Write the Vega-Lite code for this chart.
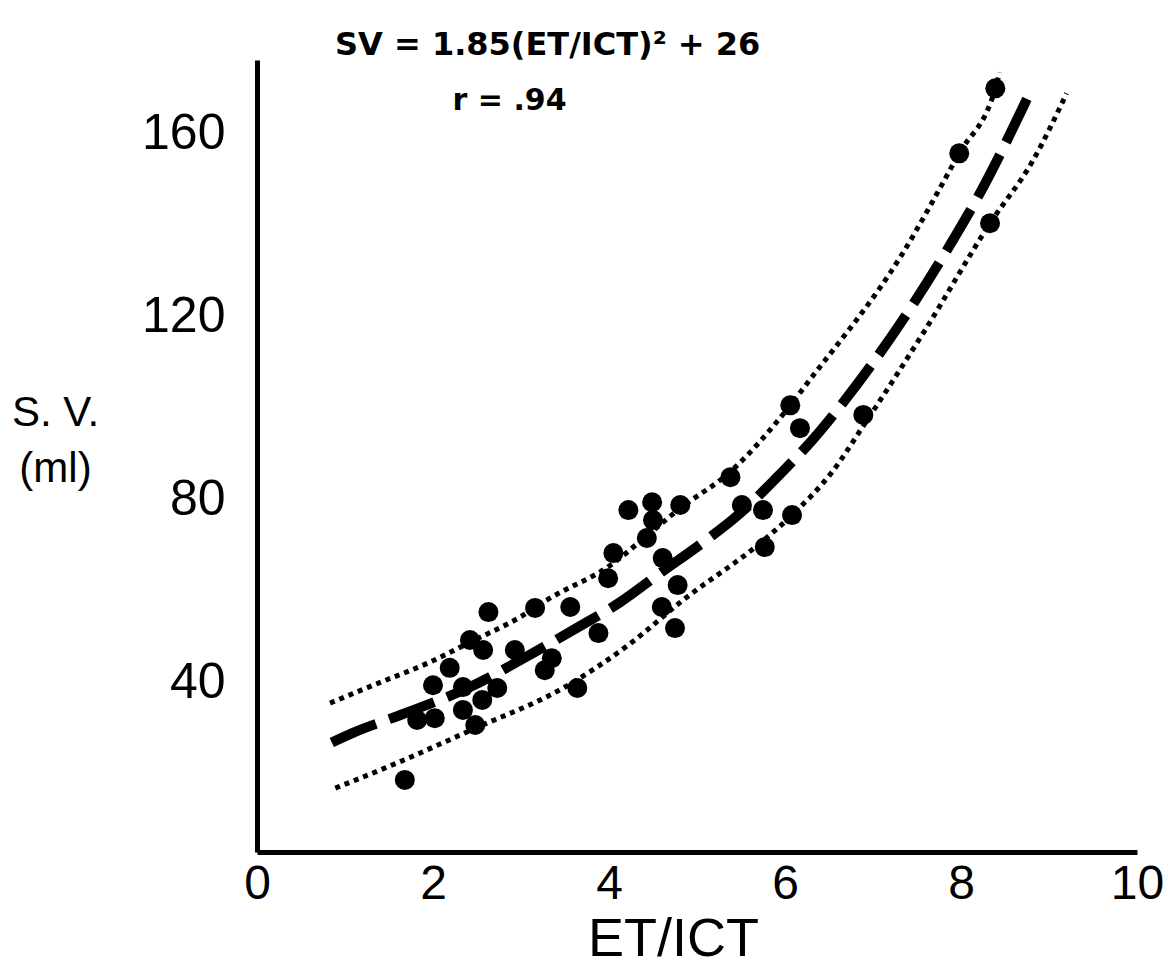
{
  "$schema": "https://vega.github.io/schema/vega-lite/v6.json",
  "width": 880,
  "height": 792,
  "autosize": {"type": "none"},
  "padding": {"left": 257, "top": 60, "right": 31, "bottom": 121},
  "background": "white",
  "config": {"view": {"stroke": null}},
  "title": {
    "text": "SV = 1.85(ET/ICT)² + 26",
    "anchor": "start",
    "frame": "group",
    "dx": 78,
    "offset": -2,
    "font": "DejaVu Sans",
    "fontSize": 32,
    "fontWeight": "bold",
    "color": "black"
  },
  "datasets": {
    "points": [
      {"et_ict": 1.68, "sv": 18.6}, {"et_ict": 1.82, "sv": 31.7}, {"et_ict": 2.02, "sv": 32.1},
      {"et_ict": 2.0, "sv": 39.3}, {"et_ict": 2.19, "sv": 43.1}, {"et_ict": 2.34, "sv": 38.9},
      {"et_ict": 2.34, "sv": 33.9}, {"et_ict": 2.48, "sv": 30.6}, {"et_ict": 2.56, "sv": 36.1},
      {"et_ict": 2.42, "sv": 49.2}, {"et_ict": 2.57, "sv": 47.0}, {"et_ict": 2.73, "sv": 38.7},
      {"et_ict": 2.63, "sv": 55.3}, {"et_ict": 2.93, "sv": 47.0}, {"et_ict": 3.16, "sv": 56.2},
      {"et_ict": 3.27, "sv": 42.6}, {"et_ict": 3.35, "sv": 45.2}, {"et_ict": 3.56, "sv": 56.4},
      {"et_ict": 3.64, "sv": 38.7}, {"et_ict": 3.88, "sv": 50.7}, {"et_ict": 3.99, "sv": 62.7},
      {"et_ict": 4.05, "sv": 68.2}, {"et_ict": 4.22, "sv": 77.6}, {"et_ict": 4.49, "sv": 79.3},
      {"et_ict": 4.5, "sv": 75.4}, {"et_ict": 4.43, "sv": 71.5}, {"et_ict": 4.81, "sv": 78.7},
      {"et_ict": 4.61, "sv": 67.1}, {"et_ict": 4.78, "sv": 61.2}, {"et_ict": 4.6, "sv": 56.4},
      {"et_ict": 4.75, "sv": 51.8}, {"et_ict": 5.38, "sv": 84.8}, {"et_ict": 5.51, "sv": 78.7},
      {"et_ict": 5.75, "sv": 77.6}, {"et_ict": 5.77, "sv": 69.5}, {"et_ict": 6.08, "sv": 76.5},
      {"et_ict": 6.06, "sv": 100.5}, {"et_ict": 6.17, "sv": 95.5}, {"et_ict": 6.89, "sv": 98.4},
      {"et_ict": 7.98, "sv": 155.6}, {"et_ict": 8.39, "sv": 169.8}, {"et_ict": 8.33, "sv": 140.3}
    ],
    "fit": [
      {"et_ict": 0.85, "sv": 26.8}, {"et_ict": 1.09, "sv": 28.9}, {"et_ict": 1.63, "sv": 32.8},
      {"et_ict": 2.42, "sv": 38.9}, {"et_ict": 3.16, "sv": 46.6}, {"et_ict": 3.65, "sv": 52.0},
      {"et_ict": 4.13, "sv": 57.5}, {"et_ict": 4.58, "sv": 63.8}, {"et_ict": 5.06, "sv": 70.4},
      {"et_ict": 5.49, "sv": 76.9}, {"et_ict": 5.91, "sv": 84.8}, {"et_ict": 6.31, "sv": 92.9},
      {"et_ict": 6.68, "sv": 101.6}, {"et_ict": 7.92, "sv": 137.0}, {"et_ict": 8.19, "sv": 146.0},
      {"et_ict": 8.45, "sv": 155.6}, {"et_ict": 8.7, "sv": 165.5}, {"et_ict": 8.81, "sv": 170.0}
    ],
    "upper": [
      {"et_ict": 0.83, "sv": 35.4}, {"et_ict": 1.32, "sv": 39.3}, {"et_ict": 1.97, "sv": 44.4},
      {"et_ict": 2.42, "sv": 48.7}, {"et_ict": 2.99, "sv": 54.2}, {"et_ict": 3.3, "sv": 58.0},
      {"et_ict": 4.05, "sv": 66.0}, {"et_ict": 4.43, "sv": 72.0}, {"et_ict": 4.81, "sv": 78.0},
      {"et_ict": 5.38, "sv": 86.0}, {"et_ict": 6.06, "sv": 100.5}, {"et_ict": 6.28, "sv": 106.0},
      {"et_ict": 7.31, "sv": 132.9}, {"et_ict": 7.98, "sv": 155.6}, {"et_ict": 8.39, "sv": 169.8},
      {"et_ict": 8.44, "sv": 173.3}
    ],
    "lower": [
      {"et_ict": 0.89, "sv": 16.8}, {"et_ict": 1.59, "sv": 22.3}, {"et_ict": 2.48, "sv": 29.9},
      {"et_ict": 3.48, "sv": 38.7}, {"et_ict": 4.22, "sv": 48.1}, {"et_ict": 4.84, "sv": 57.9},
      {"et_ict": 5.72, "sv": 70.4}, {"et_ict": 6.08, "sv": 76.5}, {"et_ict": 6.55, "sv": 86.3},
      {"et_ict": 6.89, "sv": 96.0}, {"et_ict": 7.59, "sv": 116.9}, {"et_ict": 8.33, "sv": 140.3},
      {"et_ict": 8.82, "sv": 154.1}, {"et_ict": 9.2, "sv": 168.7}
    ],
    "note": [{"label": "r = .94"}]
  },
  "layer": [
    {
      "data": {"name": "upper"},
      "mark": {"type": "line", "color": "black", "strokeWidth": 5, "strokeDash": [5, 5], "interpolate": "monotone"},
      "encoding": {
        "x": {
          "field": "et_ict", "type": "quantitative",
          "scale": {"domain": [0, 10], "nice": false, "zero": false},
          "axis": {
            "values": [0, 2, 4, 6, 8, 10], "format": "d", "grid": false, "ticks": false,
            "domainColor": "black", "domainWidth": 5,
            "labelFont": "Liberation Sans", "labelFontSize": 48, "labelColor": "black",
            "labelPadding": 8, "labelFlush": false,
            "title": "ET/ICT", "titleFont": "Liberation Sans", "titleFontSize": 54,
            "titleFontWeight": "normal", "titleColor": "black", "titlePadding": 4,
            "titleX": 416, "titleAlign": "center"
          }
        },
        "y": {
          "field": "sv", "type": "quantitative",
          "scale": {"domain": [2.84, 176], "nice": false, "zero": false},
          "axis": {
            "values": [40, 80, 120, 160], "format": "d", "grid": false, "ticks": false,
            "domainColor": "black", "domainWidth": 5,
            "labelFont": "Liberation Sans", "labelFontSize": 50, "labelColor": "black",
            "labelPadding": 32,
            "title": ["S. V.", "(ml)"], "titleAngle": 0, "titleX": -202, "titleY": 332,
            "titleAlign": "center", "titleBaseline": "top", "titleFont": "Liberation Sans",
            "titleFontSize": 42, "titleLineHeight": 56, "titleFontWeight": "normal", "titleColor": "black"
          }
        }
      }
    },
    {
      "data": {"name": "lower"},
      "mark": {"type": "line", "color": "black", "strokeWidth": 5, "strokeDash": [5, 5], "interpolate": "monotone"},
      "encoding": {
        "x": {"field": "et_ict", "type": "quantitative"},
        "y": {"field": "sv", "type": "quantitative"}
      }
    },
    {
      "data": {"name": "fit"},
      "mark": {"type": "line", "color": "black", "strokeWidth": 10, "strokeDash": [48, 14], "interpolate": "monotone"},
      "encoding": {
        "x": {"field": "et_ict", "type": "quantitative"},
        "y": {"field": "sv", "type": "quantitative"}
      }
    },
    {
      "data": {"name": "points"},
      "mark": {"type": "circle", "color": "black", "opacity": 1, "size": 400},
      "encoding": {
        "x": {"field": "et_ict", "type": "quantitative"},
        "y": {"field": "sv", "type": "quantitative"}
      }
    },
    {
      "data": {"name": "note"},
      "mark": {"type": "text", "font": "DejaVu Sans", "fontSize": 30, "fontWeight": "bold", "color": "black", "align": "center", "baseline": "middle"},
      "encoding": {
        "x": {"datum": 2.87, "type": "quantitative"},
        "y": {"datum": 167, "type": "quantitative"},
        "text": {"field": "label", "type": "nominal"}
      }
    }
  ]
}
